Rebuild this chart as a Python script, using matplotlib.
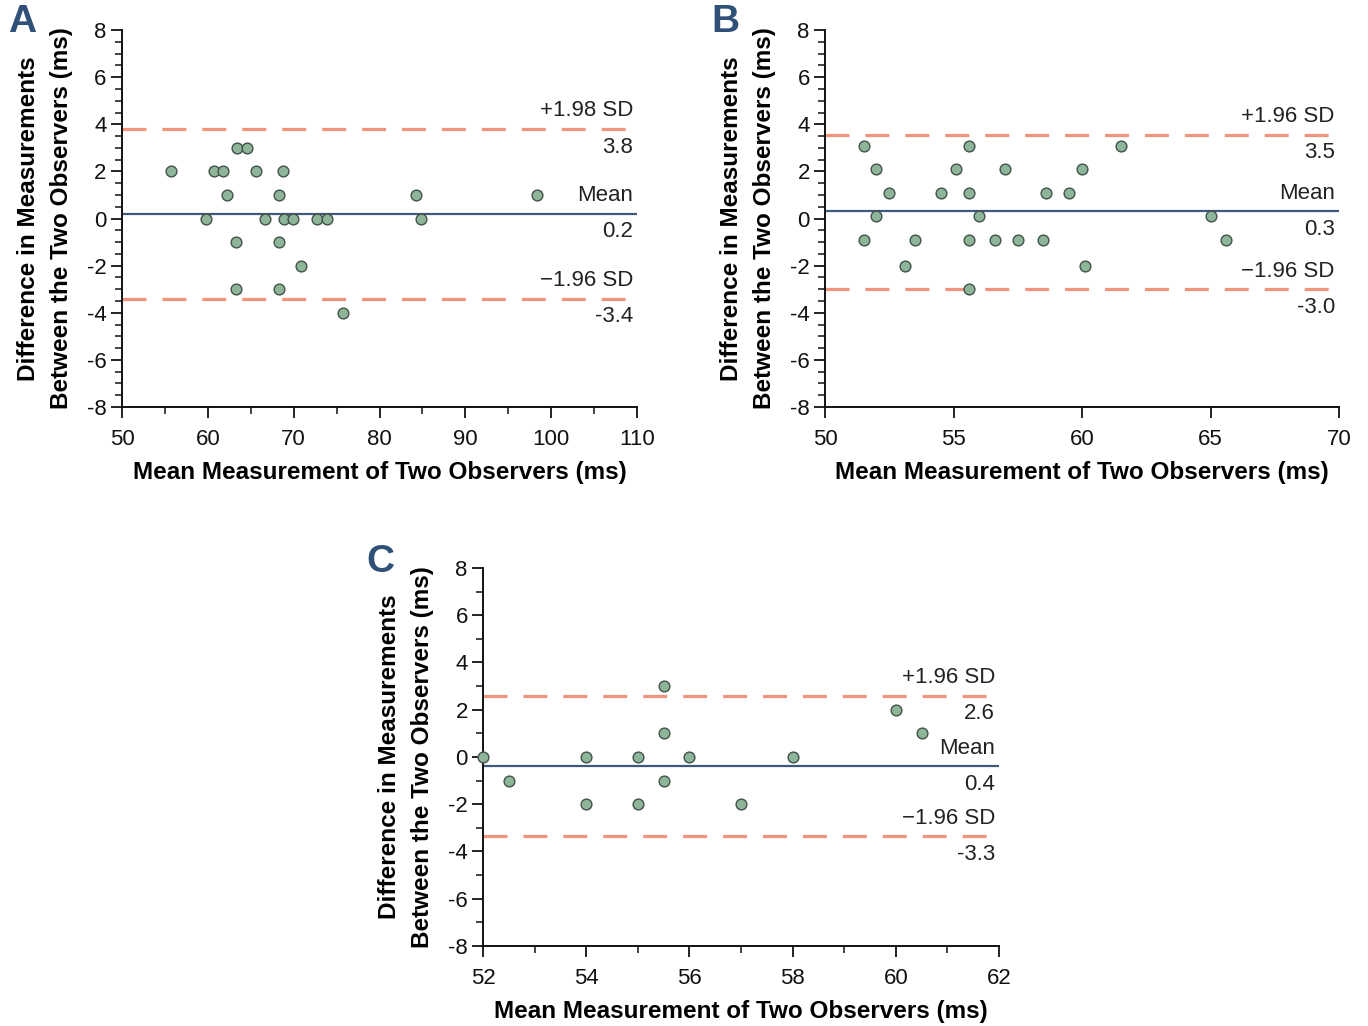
import numpy as np
import matplotlib
matplotlib.use("Agg")
import matplotlib.pyplot as plt
from matplotlib.ticker import MultipleLocator

plt.rcParams["font.family"] = ["Liberation Sans", "DejaVu Sans"]
plt.rcParams["axes.unicode_minus"] = False

# ====================== 数据 ======================
# 面板A
a_x = [55.7, 60.7, 61.8, 65.6, 68.7, 63.4, 64.6, 62.2, 68.3, 84.3, 98.3,
       59.8, 66.7, 68.9, 69.9, 72.7, 73.9, 84.8, 63.3, 68.3, 70.9, 63.3, 68.3, 75.8]
a_y = [2, 2, 2, 2, 2, 3, 3, 1, 1, 1, 1,
       0, 0, 0, 0, 0, 0, 0, -1, -1, -2, -3, -3, -4]
a_lines = [3.8, 0.2, -3.4]
a_labels = [("+1.98 SD", "3.8"), ("Mean", "0.2"), ("\u22121.96 SD", "-3.4")]

# 面板B
b_x = [51.5, 55.6, 61.5, 52.0, 55.1, 57.0, 60.0, 52.5, 54.5, 55.6, 58.6, 59.5,
       52.0, 56.0, 65.0, 51.5, 53.5, 55.6, 56.6, 57.5, 58.5, 65.6, 53.1, 60.1, 55.6]
b_y = [3.1, 3.1, 3.1, 2.1, 2.1, 2.1, 2.1, 1.1, 1.1, 1.1, 1.1, 1.1,
       0.1, 0.1, 0.1, -0.9, -0.9, -0.9, -0.9, -0.9, -0.9, -0.9, -2.0, -2.0, -3.0]
b_lines = [3.55, 0.3, -3.0]
b_labels = [("+1.96 SD", "3.5"), ("Mean", "0.3"), ("\u22121.96 SD", "-3.0")]

# 面板C
c_x = [52.0, 52.5, 54.0, 54.0, 55.0, 55.0, 55.5, 55.5, 55.5, 56.0, 58.0, 57.0, 60.0, 60.5]
c_y = [0, -1, 0, -2, 0, -2, 3, 1, -1, 0, 0, -2, 2, 1]
c_lines = [2.6, -0.4, -3.35]
c_labels = [("+1.96 SD", "2.6"), ("Mean", "0.4"), ("\u22121.96 SD", "-3.3")]

SD_COLOR = "#F2937C"
MEAN_COLOR = "#3E5979"
PT_FACE = "#8DB597"
PT_EDGE = "#43524A"
LETTER_COLOR = "#2F5077"

fig = plt.figure(figsize=(13.68, 10.26), dpi=100)


def draw_panel(rect, xs, ys, lines, labels, xlim, xmaj, xmin, ymin_step, letter, letter_pos):
    ax = fig.add_axes(rect)
    ax.set_xlim(*xlim)
    ax.set_ylim(-8, 8)
    for i, (val, (top_txt, bot_txt)) in enumerate(zip(lines, labels)):
        if i == 1:
            ax.axhline(val, color=MEAN_COLOR, lw=1.6, zorder=2)
        else:
            ax.axhline(val, color=SD_COLOR, lw=2.3, dashes=(7.5, 5), zorder=2)
        ax.annotate(top_txt, xy=(1, val), xycoords=("axes fraction", "data"),
                    xytext=(-3, 13), textcoords="offset points",
                    ha="right", va="center", fontsize=16, color="#222222")
        ax.annotate(bot_txt, xy=(1, val), xycoords=("axes fraction", "data"),
                    xytext=(-3, -13), textcoords="offset points",
                    ha="right", va="center", fontsize=16, color="#222222")
    ax.scatter(xs, ys, s=60, facecolor=PT_FACE, edgecolor=PT_EDGE, linewidth=1.0,
               zorder=3, clip_on=False)

    for s in ["top", "right"]:
        ax.spines[s].set_visible(False)
    for s in ["left", "bottom"]:
        ax.spines[s].set_linewidth(1.4)
        ax.spines[s].set_color("#111111")

    ax.xaxis.set_major_locator(MultipleLocator(xmaj))
    if xmin:
        ax.xaxis.set_minor_locator(MultipleLocator(xmin))
    ax.yaxis.set_major_locator(MultipleLocator(2))
    ax.yaxis.set_minor_locator(MultipleLocator(ymin_step))
    ax.tick_params(which="major", direction="out", length=8, width=1.3,
                   labelsize=16, colors="#111111")
    ax.tick_params(which="minor", direction="out", length=5, width=1.1, colors="#111111")
    ax.tick_params(axis="x", pad=8)
    ax.tick_params(axis="y", pad=3)

    ax.set_xlabel("Mean Measurement of Two Observers (ms)", fontsize=17.5,
                  fontweight="bold", labelpad=8)
    ax.set_ylabel("Difference in Measurements\nBetween the Two Observers (ms)",
                  fontsize=17.5, fontweight="bold", labelpad=10, linespacing=1.55)
    fig.text(letter_pos[0], letter_pos[1], letter, fontsize=28, fontweight="bold",
             color=LETTER_COLOR, ha="left", va="top")
    return ax


draw_panel([0.0892, 0.6033, 0.3765, 0.3674], a_x, a_y, a_lines, a_labels,
           (50, 110), 10, 5, 0.5, "A", (0.006, 0.996))
draw_panel([0.6031, 0.6033, 0.3757, 0.3674], b_x, b_y, b_lines, b_labels,
           (50, 70), 5, None, 0.5, "B", (0.520, 0.996))
draw_panel([0.3531, 0.0780, 0.3772, 0.3684], c_x, c_y, c_lines, c_labels,
           (52, 62), 2, 1, 1, "C", (0.268, 0.470))

plt.savefig("out.png", dpi=100)
plt.close()
